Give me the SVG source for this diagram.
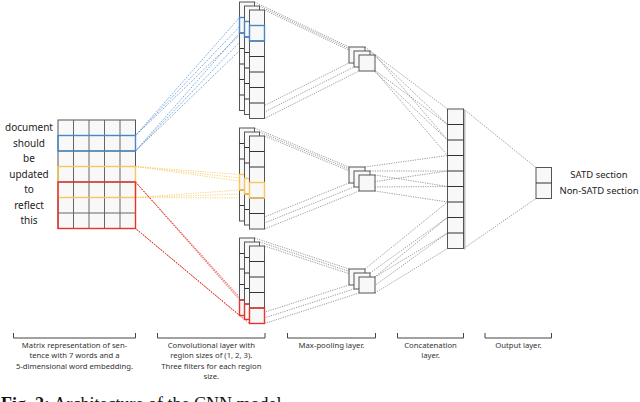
<svg xmlns="http://www.w3.org/2000/svg" width="640" height="402" viewBox="0 0 640 402">
<style>
.box{fill:#f8f8f8;stroke:#555;stroke-width:1}
.grid{fill:none;stroke:#666;stroke-width:1}
.div{fill:none;stroke:#333;stroke-width:1}
.hb{fill:none;stroke:#4a86c5;stroke-width:1.4}
.hy{fill:none;stroke:#f9c65c;stroke-width:1.4}
.hr{fill:none;stroke:#e5332d;stroke-width:1.4}
.dg{fill:none;stroke:#808080;stroke-width:0.8;stroke-dasharray:1.2 1.2}
.db{fill:none;stroke:#4a86c5;stroke-width:0.8;stroke-dasharray:1.2 1.2}
.dy{fill:none;stroke:#f9c65c;stroke-width:0.8;stroke-dasharray:1.2 1.2}
.dr{fill:none;stroke:#e5332d;stroke-width:0.8;stroke-dasharray:1.2 1.2}
.word{font-family:"Noto Sans","Open Sans",sans-serif;font-size:10px;fill:#222;text-anchor:middle}
.out{font-family:"Noto Sans","Open Sans",sans-serif;font-size:9.5px;fill:#222;text-anchor:middle}
.lab{font-family:"Noto Sans","Open Sans",sans-serif;font-size:7.7px;fill:#333;text-anchor:middle}
.brk{fill:none;stroke:#444;stroke-width:1}
.cap{font-family:"Liberation Serif","Times New Roman",serif;font-size:18px;fill:#111}
</style>
<g id="connectors">
<path class="db" d="M135.5,135.5L239.5,17.5M135.5,135.5L244.5,21.5M135.5,135.5L249.5,25.5M135.5,151L239.5,33M135.5,151L244.5,37M135.5,151L249.5,41"/>
<path class="dy" d="M135.5,166.5L239.5,174.5M135.5,166.5L244.5,178.5M135.5,166.5L249.5,182.5M135.5,197.5L239.5,190M135.5,197.5L244.5,194M135.5,197.5L249.5,198"/>
<path class="dr" d="M135.5,182L239.5,300M135.5,182L244.5,304M135.5,182L249.5,308M135.5,228.5L239.5,315.5M135.5,228.5L244.5,319.5M135.5,228.5L249.5,323.5"/>
<path class="dg" d="M254.5,2L349,47M259.5,6L354,51M264.5,10L359,55M254.5,110.5L349,63M259.5,114.5L354,67M264.5,118.5L359,71"/>
<path class="dg" d="M254.5,128L349,167M259.5,132L354,171M264.5,136L359,175M254.5,221L349,183M259.5,225L354,187M264.5,229L359,191"/>
<path class="dg" d="M254.5,238L349,269M259.5,242L354,273M264.5,246L359,277M254.5,315.5L349,285M259.5,319.5L354,289M264.5,323.5L359,293"/>
<path class="dg" d="M365,47L447.5,109M365,63L447.5,124.5M370,51L447.5,124.5M370,67L447.5,140M375,55L447.5,140M375,71L447.5,155.5"/>
<path class="dg" d="M365,167L447.5,155.5M365,183L447.5,171M370,171L447.5,171M370,187L447.5,186.5M375,175L447.5,186.5M375,191L447.5,202"/>
<path class="dg" d="M365,269L447.5,202M365,285L447.5,217.5M370,273L447.5,217.5M370,289L447.5,233M375,277L447.5,233M375,293L447.5,248.5"/>
<path class="dg" d="M463.5,109L536,167.5M463.5,248.5L536,198.5"/>
</g>
<g id="matrix">
<text class="word" x="29" y="131.3">document</text>
<text class="word" x="29" y="146.8">should</text>
<text class="word" x="29" y="162.3">be</text>
<text class="word" x="29" y="177.8">updated</text>
<text class="word" x="29" y="193.3">to</text>
<text class="word" x="29" y="208.8">reflect</text>
<text class="word" x="29" y="224.3">this</text>
<rect class="box" x="58" y="120" width="77.5" height="108.5"/>
<path class="grid" d="M73.5,120V228.5M89,120V228.5M104.5,120V228.5M120,120V228.5M58,135.5H135.5M58,151H135.5M58,166.5H135.5M58,182H135.5M58,197.5H135.5M58,213H135.5"/>
<rect class="hb" x="58" y="135.5" width="77.5" height="15.5"/>
<rect class="hy" x="58" y="166.5" width="77.5" height="31"/>
<rect class="hr" x="58" y="182" width="77.5" height="46.5"/>
</g>
<g id="conv-size1">
<rect class="box" x="239.5" y="2" width="15" height="108.5"/>
<path class="div" d="M239.5,17.5h15M239.5,33h15M239.5,48.5h15M239.5,64h15M239.5,79.5h15M239.5,95h15"/>
<rect class="hb" x="239.5" y="17.5" width="15" height="15.5"/>
<rect class="box" x="244.5" y="6" width="15" height="108.5"/>
<path class="div" d="M244.5,21.5h15M244.5,37h15M244.5,52.5h15M244.5,68h15M244.5,83.5h15M244.5,99h15"/>
<rect class="hb" x="244.5" y="21.5" width="15" height="15.5"/>
<rect class="box" x="249.5" y="10" width="15" height="108.5"/>
<path class="div" d="M249.5,25.5h15M249.5,41h15M249.5,56.5h15M249.5,72h15M249.5,87.5h15M249.5,103h15"/>
<rect class="hb" x="249.5" y="25.5" width="15" height="15.5"/>
</g>
<g id="conv-size2">
<rect class="box" x="239.5" y="128" width="15" height="93"/>
<path class="div" d="M239.5,143.5h15M239.5,159h15M239.5,174.5h15M239.5,190h15M239.5,205.5h15"/>
<rect class="hy" x="239.5" y="174.5" width="15" height="15.5"/>
<rect class="box" x="244.5" y="132" width="15" height="93"/>
<path class="div" d="M244.5,147.5h15M244.5,163h15M244.5,178.5h15M244.5,194h15M244.5,209.5h15"/>
<rect class="hy" x="244.5" y="178.5" width="15" height="15.5"/>
<rect class="box" x="249.5" y="136" width="15" height="93"/>
<path class="div" d="M249.5,151.5h15M249.5,167h15M249.5,182.5h15M249.5,198h15M249.5,213.5h15"/>
<rect class="hy" x="249.5" y="182.5" width="15" height="15.5"/>
</g>
<g id="conv-size3">
<rect class="box" x="239.5" y="238" width="15" height="77.5"/>
<path class="div" d="M239.5,253.5h15M239.5,269h15M239.5,284.5h15M239.5,300h15"/>
<rect class="hr" x="239.5" y="300" width="15" height="15.5"/>
<rect class="box" x="244.5" y="242" width="15" height="77.5"/>
<path class="div" d="M244.5,257.5h15M244.5,273h15M244.5,288.5h15M244.5,304h15"/>
<rect class="hr" x="244.5" y="304" width="15" height="15.5"/>
<rect class="box" x="249.5" y="246" width="15" height="77.5"/>
<path class="div" d="M249.5,261.5h15M249.5,277h15M249.5,292.5h15M249.5,308h15"/>
<rect class="hr" x="249.5" y="308" width="15" height="15.5"/>
</g>
<g id="pool-1">
<rect class="box" x="349" y="47" width="16" height="16"/>
<rect class="box" x="354" y="51" width="16" height="16"/>
<rect class="box" x="359" y="55" width="16" height="16"/>
</g>
<g id="pool-2">
<rect class="box" x="349" y="167" width="16" height="16"/>
<rect class="box" x="354" y="171" width="16" height="16"/>
<rect class="box" x="359" y="175" width="16" height="16"/>
</g>
<g id="pool-3">
<rect class="box" x="349" y="269" width="16" height="16"/>
<rect class="box" x="354" y="273" width="16" height="16"/>
<rect class="box" x="359" y="277" width="16" height="16"/>
</g>
<g id="concat">
<path d="M464.8,110V249.5" stroke="#aaa" stroke-width="1.2" fill="none"/>
<rect class="box" x="447.5" y="109" width="16" height="139.5"/>
<path class="div" d="M447.5,124.5h16M447.5,140h16M447.5,155.5h16M447.5,171h16M447.5,186.5h16M447.5,202h16M447.5,217.5h16M447.5,233h16"/>
</g>
<g id="output">
<rect class="box" x="536" y="167.5" width="15.5" height="31"/>
<path class="div" d="M536,183h15.5"/>
<text class="out" x="599" y="178.4">SATD section</text>
<text class="out" x="599" y="194">Non-SATD section</text>
</g>
<g id="labels">
<path class="brk" d="M13.5,333V338H135.5V333M157.5,333V338H265V333M287.5,333V338H375.5V333M397.5,333V338H463.5V333M485,333V338H551.5V333"/>
<text class="lab" x="74.5" y="347.5">Matrix representation of sen-</text>
<text class="lab" x="74.5" y="358">tence with 7 words and a</text>
<text class="lab" x="74.5" y="368.5">5-dimensional word embedding.</text>
<text class="lab" x="211.3" y="347.5">Convolutional layer with</text>
<text class="lab" x="211.3" y="358">region sizes of (1, 2, 3).</text>
<text class="lab" x="211.3" y="368.5">Three filters for each region</text>
<text class="lab" x="211.3" y="379">size.</text>
<text class="lab" x="331.5" y="347.5">Max-pooling layer.</text>
<text class="lab" x="430.5" y="347.5">Concatenation</text>
<text class="lab" x="430.5" y="358">layer.</text>
<text class="lab" x="518.3" y="347.5">Output layer.</text>
<text class="cap" x="1" y="409.5"><tspan font-weight="bold">Fig. 2:</tspan> Architecture of the CNN model.</text>
</g>
</svg>
